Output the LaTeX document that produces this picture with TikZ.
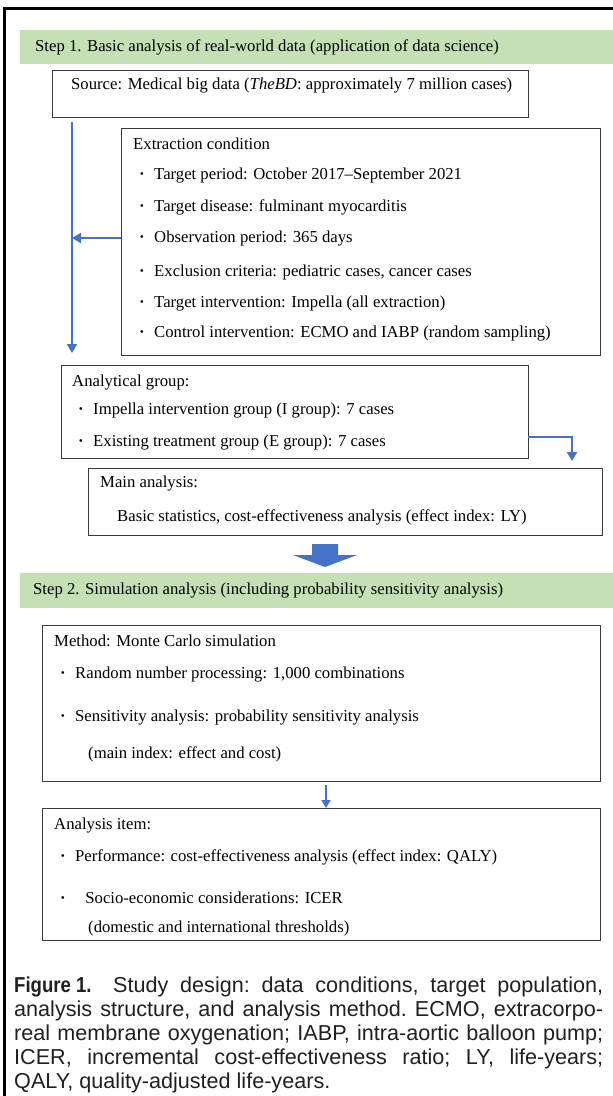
\documentclass[tikz,border=0pt]{standalone}
\usepackage{fontspec}
\setmainfont{Liberation Serif}
\newfontfamily\capfont{Liberation Sans}
\usepackage{graphicx}
\usetikzlibrary{arrows.meta}
\definecolor{bandgreen}{HTML}{C5E0B4}
\definecolor{arrowblue}{HTML}{4472C4}
\definecolor{boxgray}{HTML}{3A3A3A}
\definecolor{captext}{HTML}{231F20}
\newcommand\bul[1][15pt]{\makebox[#1][l]{\textbf{·}}}
\begin{document}
\begin{tikzpicture}[x=1pt,y=-1pt,
  box/.style={draw=boxgray, line width=0.9pt, anchor=north west, inner sep=0pt},
  band/.style={fill=bandgreen, anchor=north west, inner sep=0pt, minimum width=593pt},
  txt/.style={anchor=west, inner sep=0pt, font=\fontsize{16.7}{19}\selectfont, text height=11.5pt, text depth=3.5pt},
  conn/.style={draw=arrowblue, line width=2.6pt, -{Triangle[length=9pt,width=10pt]}},
]
\useasboundingbox (0,0) rectangle (613,1096);
\fill[white] (0,0) rectangle (613,1096);
% outer frame
\draw[line width=3pt] (4.5,1096) -- (4.5,8.5) -- (613,8.5);

% Step 1 band
\node[band, minimum height=34pt] (s1) at (20,30) {};
\node[txt] (s1t) at (35,47) {Step 1. Basic analysis of real-world data (application of data science)};

% Source
\node[box, minimum width=476pt, minimum height=47pt] (src) at (52,70) {};
\node[txt] (srct) at (71,85) {Source: Medical big data (\textit{TheBD}: approximately 7 million cases)};

% Extraction
\node[box, minimum width=479pt, minimum height=227pt] (ext) at (121,128) {};
\node[txt] (ext0) at (133,145) {Extraction condition};
\node[txt] (ext1) at (139,175) {\bul Target period: October 2017\textendash September 2021};
\node[txt] (ext2) at (139,207) {\bul Target disease: fulminant myocarditis};
\node[txt] (ext3) at (139,238) {\bul Observation period: 365 days};
\node[txt] (ext4) at (139,272) {\bul Exclusion criteria: pediatric cases, cancer cases};
\node[txt] (ext5) at (139,303) {\bul Target intervention: Impella (all extraction)};
\node[txt] (ext6) at (139,333) {\bul Control intervention: ECMO and IABP (random sampling)};

% vertical flow arrow and side arrow
\coordinate (v1) at (72,122);
\coordinate (v2) at (72,353);
\coordinate (h1) at (121,238);
\draw[conn] (v1) -- (v2);
\draw[conn] (h1) -- (v1 |- h1);

% Analytical group
\node[box, minimum width=467pt, minimum height=93pt] (ag) at (61,365) {};
\node[txt] (ag0) at (72,382) {Analytical group:};
\node[txt] (ag1) at (78,410) {\bul Impella intervention group (I group): 7 cases};
\node[txt] (ag2) at (78,442) {\bul Existing treatment group (E group): 7 cases};

% elbow arrow
\coordinate (e1) at (528,437);
\coordinate (e2) at (572,461);
\draw[conn] (e1) -| (e2);

% Main analysis
\node[box, minimum width=514pt, minimum height=67pt] (ma) at (88,468) {};
\node[txt] (ma0) at (100,483) {Main analysis:};
\node[txt] (ma1) at (117,517) {Basic statistics, cost-effectiveness analysis (effect index: LY)};

% block arrow
\fill[arrowblue] (312,544) -- (338,544) -- (338,555) -- (357,555) -- (325,567) -- (293,555) -- (312,555) -- cycle;

% Step 2 band
\node[band, minimum height=35pt] (s2) at (20,573) {};
\node[txt] (s2t) at (33,590) {Step 2. Simulation analysis (including probability sensitivity analysis)};

% Method
\node[box, minimum width=558pt, minimum height=156pt] (mth) at (42,625) {};
\node[txt] (mth0) at (54,642) {Method: Monte Carlo simulation};
\node[txt] (mth1) at (60,674) {\bul Random number processing: 1,000 combinations};
\node[txt] (mth2) at (60,717) {\bul Sensitivity analysis: probability sensitivity analysis};
\node[txt] (mth3) at (88,754) {(main index: effect and cost)};

% small arrow
\coordinate (m1) at (326,785);
\coordinate (m2) at (326,808);
\draw[conn, line width=2.4pt, -{Triangle[length=8pt,width=9pt]}] (m1) -- (m2);

% Analysis item
\node[box, minimum width=558pt, minimum height=132pt] (ai) at (42,808) {};
\node[txt] (ai0) at (54,825) {Analysis item:};
\node[txt] (ai1) at (60,857) {\bul Performance: cost-effectiveness analysis (effect index: QALY)};
\node[txt] (ai2) at (60,899) {\bul[21pt] Socio-economic considerations: ICER};
\node[txt] (ai3) at (88,928) {(domestic and international thresholds)};

% caption
\node[anchor=north west, inner sep=0pt, text width=589pt, align=justify, text=captext,
      font=\capfont\fontsize{21.6}{23.8}\selectfont] (cap) at (14,977)
  {\frenchspacing\tolerance=10000\hyphenpenalty=10000
   \scalebox{0.86}[1]{\bfseries Figure 1.}\hspace{1em}Study design: data conditions, target population,\linebreak
   analysis structure, and analysis method. ECMO, extracorpo-\linebreak
   real membrane oxygenation; IABP, intra-aortic balloon pump;\linebreak
   ICER, incremental cost-effectiveness ratio; LY, life-years;\linebreak
   QALY, quality-adjusted life-years.};
\end{tikzpicture}
\end{document}
